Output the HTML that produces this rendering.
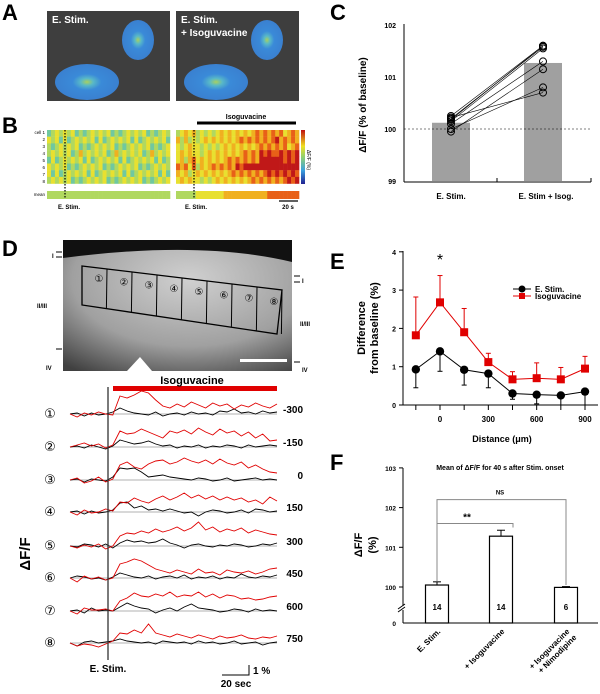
<!DOCTYPE html>
<html><head><meta charset="utf-8"><style>
body{margin:0;background:#fff;font-family:"Liberation Sans",sans-serif}
#root{position:relative;width:600px;height:694px;overflow:hidden}
</style></head><body>
<div id="root">
<svg width="600" height="694" viewBox="0 0 600 694" style="position:absolute;left:0;top:0" font-family="Liberation Sans, sans-serif">
<defs>
<radialGradient id="cell" cx="0.5" cy="0.5" r="0.5"><stop offset="0" stop-color="#a8d060"/><stop offset="0.2" stop-color="#58b8c8"/><stop offset="0.45" stop-color="#3a8ad8"/><stop offset="1" stop-color="#3a80d0"/></radialGradient>
<linearGradient id="cbar" x1="0" y1="1" x2="0" y2="0"><stop offset="0" stop-color="#202090"/><stop offset="0.25" stop-color="#3aa0e0"/><stop offset="0.5" stop-color="#90d070"/><stop offset="0.7" stop-color="#f0e020"/><stop offset="1" stop-color="#c01010"/></linearGradient>
<radialGradient id="slice" cx="0.55" cy="0.3" r="0.85"><stop offset="0" stop-color="#d0d0d0"/><stop offset="0.6" stop-color="#a0a0a0"/><stop offset="1" stop-color="#404040"/></radialGradient>
</defs>
<text x="2" y="20" font-size="22" font-weight="bold">A</text>
<text x="2" y="133" font-size="22" font-weight="bold">B</text>
<text x="330" y="20" font-size="22" font-weight="bold">C</text>
<text x="2" y="256" font-size="22" font-weight="bold">D</text>
<text x="330" y="269" font-size="22" font-weight="bold">E</text>
<text x="330" y="470" font-size="22" font-weight="bold">F</text>
<g>
<rect x="47" y="11" width="123" height="90" fill="#3e3e3e"/>
<ellipse cx="138" cy="40" rx="16" ry="20" fill="url(#cell)"/>
<ellipse cx="87" cy="82" rx="32" ry="18" fill="url(#cell)"/>
<text x="52" y="23" font-size="10" font-weight="bold" fill="#fff">E. Stim.</text></g>
<g>
<rect x="176" y="11" width="123" height="90" fill="#3e3e3e"/>
<ellipse cx="267" cy="40" rx="16" ry="20" fill="url(#cell)"/>
<ellipse cx="216" cy="82" rx="32" ry="18" fill="url(#cell)"/>
<text x="181" y="23" font-size="10" font-weight="bold" fill="#fff">E. Stim.</text>
<text x="181" y="36" font-size="10" font-weight="bold" fill="#fff">+ Isoguvacine</text></g>
<g id="heat"></g>
<rect x="301" y="130" width="4" height="54" fill="url(#cbar)"/>
<text x="303" y="160" font-size="5" transform="rotate(90 310 157)">ΔF/F (%)</text>
<line x1="197" y1="123" x2="296" y2="123" stroke="#000" stroke-width="3"/>
<text x="246" y="119" font-size="7" text-anchor="middle" font-weight="bold">Isoguvacine</text>
<text x="45" y="134" font-size="4.5" text-anchor="end">cell 1</text>
<g font-size="4.5" text-anchor="end">
<text x="45" y="141">2</text><text x="45" y="148">3</text><text x="45" y="155">4</text><text x="45" y="162">5</text><text x="45" y="169">6</text><text x="45" y="176">7</text><text x="45" y="183">8</text><text x="45" y="196">mean</text></g>
<text x="58" y="209" font-size="6" font-weight="bold">E. Stim.</text>
<text x="185" y="209" font-size="6" font-weight="bold">E. Stim.</text>
<line x1="279" y1="201" x2="298" y2="201" stroke="#000" stroke-width="1.2"/>
<text x="288" y="209" font-size="6" font-weight="bold" text-anchor="middle">20 s</text>
<g id="panelC"></g>
<g>
<rect x="63" y="240" width="229" height="131" fill="url(#slice)"/>
<path d="M63 240 L292 240 L292 262 Q200 240 63 258 Z" fill="#111"/>
<polygon points="82,266 282,290 277,334 82,305" fill="none" stroke="#000" stroke-width="1.3"/>
<rect x="240" y="359" width="47" height="3" fill="#fff"/>
<polygon points="127,371 140,357 152,371" fill="#fff"/>
</g>
<g id="dboxes"></g>
<g font-size="6" font-weight="bold">
<text x="52" y="258">I</text><line x1="56" y1="252" x2="62" y2="252" stroke="#000"/><line x1="56" y1="257" x2="62" y2="257" stroke="#000"/>
<text x="37" y="308">II/III</text><text x="46" y="370">IV</text><line x1="56" y1="349" x2="62" y2="349" stroke="#000"/>
<text x="302" y="283">I</text><line x1="294" y1="276" x2="300" y2="276" stroke="#000"/><line x1="294" y1="282" x2="300" y2="282" stroke="#000"/>
<text x="300" y="326">II/III</text><text x="302" y="372">IV</text><line x1="294" y1="362" x2="300" y2="362" stroke="#000"/></g>
<rect x="113" y="386" width="164" height="5" fill="#e00000"/>
<text x="192" y="384" font-size="11" font-weight="bold" text-anchor="middle">Isoguvacine</text>
<g id="traces"></g>
<line x1="108" y1="387" x2="108" y2="660" stroke="#333" stroke-width="1.3"/>
<text x="108" y="672" font-size="10" font-weight="bold" text-anchor="middle">E. Stim.</text>
<text x="30" y="554" font-size="15" font-weight="bold" transform="rotate(-90 30 554)" text-anchor="middle">ΔF/F</text>
<path d="M222 675 H249 V665" fill="none" stroke="#000" stroke-width="1"/>
<text x="253" y="674" font-size="10" font-weight="bold">1 %</text>
<text x="236" y="687" font-size="10" font-weight="bold" text-anchor="middle">20 sec</text>
<g id="panelE"></g>
<g id="panelF"></g>
</svg>
</div>
<script>
const NS='http://www.w3.org/2000/svg';
function mk(p,t,a,txt){const e=document.createElementNS(NS,t);for(const k in a)e.setAttribute(k,a[k]);if(txt!==undefined)e.textContent=txt;p.appendChild(e);return e;}

const heatLeftLevels=[0.4,0.45,0.4,0.5,0.45,0.4,0.45,0.42];
const heatRightLevels=[0.6,0.62,0.6,0.7,0.75,0.85,0.7,0.65];
const heatColors=['#2050c0','#40a8e0','#70c8a0','#b0d860','#e8e030','#f0b020','#e86018','#c01818'];
const heat=document.getElementById('heat');
function col(v){return heatColors[Math.max(0,Math.min(7,Math.round(v*7)))];}
function heatBlock(x0,levels,post){
  for(let r=0;r<8;r++){for(let c=0;c<31;c++){
    const wig=((r*7+c*13)%9)/9-0.45;
    let v=levels[r]*0.6+0.2+wig*0.35;
    if(post&&c>4)v=0.45+(levels[r]-0.4)*(Math.min(c,24)/24)*1.6+wig*0.3;
    mk(heat,'rect',{x:x0+c*123/31,y:130+r*6.7,width:123/31+0.3,height:6.9,fill:col(v)});
  }}
  for(let c=0;c<31;c++){let v=post&&c>4?0.5+0.3*Math.min(c,24)/24:0.45;mk(heat,'rect',{x:x0+c*123/31,y:191,width:123/31+0.3,height:8,fill:col(v)});}
  mk(heat,'line',{x1:x0+18,y1:130,x2:x0+18,y2:199,stroke:'#000','stroke-dasharray':'1.5,1.5','stroke-width':1.2});
}
heatBlock(47,heatLeftLevels,false);heatBlock(176,heatRightLevels,true);

const cCats=['E. Stim.','E. Stim + Isog.'];
const cMeans=[100.12,101.27];
const cPre=[100.25,100.2,100.15,100.1,99.95,100.0,100.22,100.18];
const cPost=[101.6,101.58,101.55,101.3,101.15,100.8,100.7,101.6];
const cTicks=[99,100,101,102];
(function(){
 const g=document.getElementById('panelC');
 const y=v=>181-(v-99)*52, xc=[451,543];
 cMeans.forEach((m,i)=>{const r=mk(g,'rect',{x:xc[i]-19,y:y(m),width:38,height:y(99)-y(m),fill:'#a0a0a0'});
 
 });
 mk(g,'line',{x1:404,y1:y(100),x2:590,y2:y(100),stroke:'#000','stroke-dasharray':'2,2','stroke-width':0.6});
 cPre.forEach((p,i)=>{mk(g,'line',{x1:xc[0],y1:y(p),x2:xc[1],y2:y(cPost[i]),stroke:'#000','stroke-width':0.6});});
 cPre.forEach((p,i)=>{const a=mk(g,'circle',{cx:xc[0],cy:y(p),r:3.5,fill:'none',stroke:'#000'});
 
 
 const b=mk(g,'circle',{cx:xc[1],cy:y(cPost[i]),r:3.5,fill:'none',stroke:'#000'});
 
 });
 mk(g,'line',{x1:404,y1:24,x2:404,y2:182,stroke:'#000'});
 mk(g,'line',{x1:404,y1:182,x2:591,y2:182,stroke:'#000'});
 cTicks.forEach(t=>{mk(g,'text',{x:396,y:y(t)+3,'font-size':7,'font-weight':'bold','text-anchor':'end'},String(t));});
 [497,591].forEach(x=>mk(g,'line',{x1:x,y1:182,x2:x,y2:178,stroke:'#000'}));
 cCats.forEach((c,i)=>mk(g,'text',{x:xc[i]+(i?3:0),y:199,'font-size':8,'font-weight':'bold','text-anchor':'middle'},c));
 mk(g,'text',{x:0,y:0,'font-size':10,'font-weight':'bold','text-anchor':'middle',transform:'translate(366 105) rotate(-90)'},'ΔF/F (% of baseline)');
})();

const dDistances=['-300','-150','0','150','300','450','600','750'];
const dBlack=[
[0,.1,-.2,.1,-.1,0,.2,.6,.3,.1,0,-.1,.2,-.2,0,.1,-.1,.2,0,.1,-.1,.3,.2,.5,.1,.2,0,.3,.1,.2],
[0,.1,-.1,.2,0,-.2,.1,.7,.5,.3,.4,.6,.3,.1,.2,-.1,.1,0,.2,-.1,.1,0,.2,.1,-.1,.2,0,.1,.2,.1],
[0,.1,-.2,.1,0,-.1,.3,1.2,1.1,1.2,.8,.3,.4,.5,.3,.2,.1,0,.2,.1,-.1,0,.2,-.1,0,.1,.2,0,.1,0],
[0,.1,-.2,.1,-.1,0,.2,.9,1,.4,.6,.2,.3,.1,.3,.1,-.1,0,-.4,0,.2,.1,-.1,0,.2,-.1,.3,.2,0,.1],
[0,-.1,.2,.1,-.1,.2,-.2,.3,.6,.4,.5,.3,.4,.7,.3,.1,-.2,.1,.2,0,-.1,.1,0,.2,.1,-.1,0,.2,.1,.3],
[0,.2,.1,-.1,0,-.2,.1,.5,.3,.1,0,.2,-.1,.1,.2,0,.3,-.1,.1,0,.2,-.1,.1,0,.4,.1,0,.2,.1,.3],
[0,.1,-.2,.3,0,.1,0,.4,.8,.5,.3,.2,-.2,.1,.3,0,.4,.7,.3,.2,.1,-.1,0,.2,.1,-.1,.2,0,.1,0],
[0,-.3,.1,.2,0,.1,.2,.4,.2,.1,0,.1,-.1,.2,.1,0,.1,-.1,.2,0,.1,-.1,0,.2,-.1,0,.1,-.2,0,.1]];
const dRed=[
[0,-.3,.1,-.1,.2,0,-.1,1.8,1.6,1.9,2.3,2.1,1.4,.8,.6,1,.7,1.2,.9,.6,1.1,.8,1,.5,.9,.7,1.1,.8,.6,1],
[0,.2,.4,.1,.3,-.1,.2,1.6,1.3,1.4,1.8,1.5,1.2,.9,1.6,1.4,1.7,1.3,1.9,1.5,1.2,1.8,1.4,1.6,1.1,1.5,.9,1.3,.6,.7],
[0,.2,-.3,-.1,.3,-.2,.1,1.5,1.8,1.3,1.1,1.6,1.9,2,1.6,1.8,2.2,1.9,1.7,2,1.6,2.1,1.7,1.5,1.8,1.2,1.5,1.1,.8,.7],
[0,-.3,.2,-.1,0,.3,.1,1,.9,1.4,1.1,.9,1.3,1.6,1.2,1.5,1.9,1.4,1.7,1.3,1.6,1.2,1.5,1.2,1.4,1,1.2,.8,1.5,1.1],
[0,-.2,.1,-.1,.2,-.3,0,1,1.3,1.2,1.5,1.3,1.7,1.4,1.6,1.9,1.5,1.8,2.4,1.6,1.9,1.4,1.7,1.5,1.8,1.3,1.6,1.4,1.2,1.1],
[0,-.4,.2,-.1,.1,-.2,0,1.4,1.6,1.9,1.7,1.3,.9,.7,.5,.8,.6,.4,.9,.5,.6,.3,.8,.6,.5,.7,.4,.6,.9,1],
[0,-.3,.3,.1,.1,.2,0,1,1.3,1.8,1.5,1.4,1.7,1.5,1.9,1.4,1.6,1.5,1.9,1.4,1.7,1.3,1.6,1.5,1.2,1.3,1.1,1.2,1.4,1.5],
[0,-.3,-.1,-.2,-.4,-.1,.2,1,.9,1.3,1,1.9,1,.8,.6,.9,.7,.5,.8,.6,.4,.7,.5,.6,.8,.5,.4,.6,.5,.7]];
const dBase=[414,447,480,512,546,578,611,643];
(function(){
 const g=document.getElementById('traces');
 const x=i=>70+i*(207/29), s=10;
 const circ=['①','②','③','④','⑤','⑥','⑦','⑧'];
 dBase.forEach((b,k)=>{
  mk(g,'line',{x1:70,y1:b,x2:277,y2:b,stroke:'#999','stroke-width':0.8});
  const pb=mk(g,'polyline',{points:dBlack[k].map((v,i)=>x(i)+','+(b-v*s)).join(' '),fill:'none',stroke:'#000','stroke-width':0.9});
  
  
  const pr=mk(g,'polyline',{points:dRed[k].map((v,i)=>x(i)+','+(b-v*s)).join(' '),fill:'none',stroke:'#e00000','stroke-width':0.9});
  
  
  mk(g,'text',{x:50,y:b+4,'font-size':13,'text-anchor':'middle','font-family':'DejaVu Sans, sans-serif'},circ[k]);
  mk(g,'text',{x:303,y:b-1,'font-size':10,'font-weight':'bold','text-anchor':'end'},dDistances[k]);
 });
 const bx=document.getElementById('dboxes');
 for(let i=0;i<8;i++){
  const xa=82+i*25, xb=xa+25;
  mk(bx,'line',{x1:xb,y1:266+(xb-82)*0.12,x2:xb-0.6,y2:305+(xb-82)*0.145,stroke:'#000','stroke-width':1});
  mk(bx,'text',{x:xa+17,y:282+(xa-82)*0.13,'font-size':10,'text-anchor':'middle','font-family':'DejaVu Sans, sans-serif'},circ[i]);
 }
})();

const eDist=[-150,0,150,300,450,600,750,900];
const eStim=[0.93,1.4,0.92,0.82,0.3,0.27,0.25,0.35];
const eStimErr=[0.48,0.52,0.4,0.37,0.15,0.24,0.25,0.35];
const eIsog=[1.82,2.68,1.9,1.12,0.67,0.7,0.67,0.95];
const eIsogErr=[1.0,0.7,0.62,0.23,0.2,0.4,0.31,0.32];
const eYTicks=[0,1,2,3,4];
const eXTicks=[0,300,600,900];
(function(){
 const g=document.getElementById('panelE');
 const x=d=>440+d*(145/900), y=v=>405-v*38.3;
 mk(g,'line',{x1:403,y1:251,x2:403,y2:405,stroke:'#000'});
 mk(g,'line',{x1:403,y1:405,x2:598,y2:405,stroke:'#000'});
 eYTicks.forEach(t=>{mk(g,'line',{x1:399,y1:y(t),x2:403,y2:y(t),stroke:'#000'});mk(g,'text',{x:396,y:y(t)+3,'font-size':7,'font-weight':'bold','text-anchor':'end'},String(t));});
 eDist.forEach(d=>mk(g,'line',{x1:x(d),y1:405,x2:x(d),y2:410,stroke:'#000'}));
 eXTicks.forEach(d=>mk(g,'text',{x:x(d),y:422,'font-size':8,'font-weight':'bold','text-anchor':'middle'},String(d)));
 mk(g,'text',{x:502,y:442,'font-size':9,'font-weight':'bold','text-anchor':'middle'},'Distance (μm)');
 mk(g,'text',{x:0,y:0,'font-size':11,'font-weight':'bold','text-anchor':'middle',transform:'translate(365 328) rotate(-90)'},'Difference');
 mk(g,'text',{x:0,y:0,'font-size':11,'font-weight':'bold','text-anchor':'middle',transform:'translate(378 328) rotate(-90)'},'from baseline (%)');
 mk(g,'text',{x:x(0),y:265,'font-size':16,'text-anchor':'middle'},'*');
 eDist.forEach((d,i)=>{
  mk(g,'line',{x1:x(d),y1:y(eIsog[i]),x2:x(d),y2:y(eIsog[i]+eIsogErr[i]),stroke:'#e00000'});
  mk(g,'line',{x1:x(d)-2.5,y1:y(eIsog[i]+eIsogErr[i]),x2:x(d)+2.5,y2:y(eIsog[i]+eIsogErr[i]),stroke:'#e00000'});
  mk(g,'line',{x1:x(d),y1:y(eStim[i]),x2:x(d),y2:y(eStim[i]-eStimErr[i]),stroke:'#000'});
  mk(g,'line',{x1:x(d)-2.5,y1:y(eStim[i]-eStimErr[i]),x2:x(d)+2.5,y2:y(eStim[i]-eStimErr[i]),stroke:'#000'});
 });
 mk(g,'polyline',{points:eDist.map((d,i)=>x(d)+','+y(eIsog[i])).join(' '),fill:'none',stroke:'#e00000'});
 mk(g,'polyline',{points:eDist.map((d,i)=>x(d)+','+y(eStim[i])).join(' '),fill:'none',stroke:'#000'});
 eDist.forEach((d,i)=>{
  const r=mk(g,'rect',{x:x(d)-4,y:y(eIsog[i])-4,width:8,height:8,fill:'#e00000'});
  
  
  const c=mk(g,'circle',{cx:x(d),cy:y(eStim[i]),r:4.2,fill:'#000'});
  
  
 });
 mk(g,'line',{x1:513,y1:289,x2:531,y2:289,stroke:'#000'});mk(g,'circle',{cx:522,cy:289,r:3.5,fill:'#000'});
 mk(g,'text',{x:535,y:292,'font-size':8,'font-weight':'bold'},'E. Stim.');
 mk(g,'line',{x1:513,y1:296,x2:531,y2:296,stroke:'#e00000'});mk(g,'rect',{x:519,y:293,width:6,height:6,fill:'#e00000'});
 mk(g,'text',{x:535,y:299,'font-size':8,'font-weight':'bold'},'Isoguvacine');
})();

const fCats=['E. Stim.','+ Isoguvacine','+ Isoguvacine|+ Nimodipine'];
const fMeans=[100.05,101.28,99.99];
const fErr=[0.08,0.15,0.02];
const fN=['14','14','6'];
const fTicks=[100,101,102,103];
(function(){
 const g=document.getElementById('panelF');
 const y=v=>587-(v-100)*39.7, base=623, xc=[437,501,566];
 mk(g,'line',{x1:403,y1:468,x2:403,y2:623,stroke:'#000'});
 mk(g,'line',{x1:403,y1:623,x2:598,y2:623,stroke:'#000'});
 fTicks.forEach(t=>{mk(g,'line',{x1:399,y1:y(t),x2:403,y2:y(t),stroke:'#000'});mk(g,'text',{x:396,y:y(t)+3,'font-size':6.5,'font-weight':'bold','text-anchor':'end'},String(t));});
 mk(g,'text',{x:396,y:626,'font-size':6.5,'font-weight':'bold','text-anchor':'end'},'0');
 mk(g,'rect',{x:398,y:606,width:10,height:4,fill:'#fff'});
 mk(g,'path',{d:'M398 609 L405 604 M398 612 L405 607',stroke:'#000',fill:'none'});
 fMeans.forEach((m,i)=>{
  const r=mk(g,'rect',{x:xc[i]-11.5,y:y(m),width:23,height:base-y(m),fill:'#fff',stroke:'#000','stroke-width':1.2});
  
  
  mk(g,'line',{x1:xc[i],y1:y(m),x2:xc[i],y2:y(m+fErr[i]),stroke:'#000'});
  mk(g,'line',{x1:xc[i]-4,y1:y(m+fErr[i]),x2:xc[i]+4,y2:y(m+fErr[i]),stroke:'#000'});
  mk(g,'rect',{x:xc[i]-10,y:600,width:20,height:12,fill:'#fff'});
  mk(g,'text',{x:xc[i],y:610,'font-size':8,'font-weight':'bold','text-anchor':'middle'},fN[i]);
 });
 mk(g,'path',{d:`M${xc[0]} ${y(100.15)} V${y(101.6)} H${xc[1]+12} V${y(101.5)}`,fill:'none',stroke:'#888'});
 mk(g,'path',{d:`M${xc[0]} ${y(101.6)} V${y(102.2)} H${xc[2]} V${y(100.05)}`,fill:'none',stroke:'#888'});
 mk(g,'text',{x:467,y:y(101.6)-3,'font-size':10,'font-weight':'bold','text-anchor':'middle'},'**');
 mk(g,'text',{x:500,y:y(102.2)-5,'font-size':6,'font-weight':'bold','text-anchor':'middle'},'NS');
 mk(g,'text',{x:500,y:470,'font-size':7,'font-weight':'bold','text-anchor':'middle'},'Mean of ΔF/F for 40 s after Stim. onset');
 mk(g,'text',{x:0,y:0,'font-size':11,'font-weight':'bold','text-anchor':'middle',transform:'translate(362 545) rotate(-90)'},'ΔF/F');
 mk(g,'text',{x:0,y:0,'font-size':11,'font-weight':'bold','text-anchor':'middle',transform:'translate(376 545) rotate(-90)'},'(%)');
 fCats.forEach((c,i)=>{
  c.split('|').forEach((ln,j)=>{
   mk(g,'text',{x:0,y:0,'font-size':8,'font-weight':'bold','text-anchor':'end',transform:`translate(${xc[i]+4+j*7} ${632+j*6}) rotate(-45)`},ln);
  });
 });
})();
</script>
</body></html>
